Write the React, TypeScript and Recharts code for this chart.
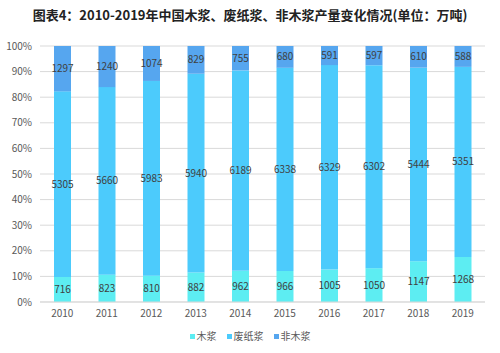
import { BarChart, Bar, XAxis, YAxis, CartesianGrid, LabelList } from "recharts";

const years = ["2010", "2011", "2012", "2013", "2014", "2015", "2016", "2017", "2018", "2019"];
const woodPulp = [716, 823, 810, 882, 962, 966, 1005, 1050, 1147, 1268];
const wastePulp = [5305, 5660, 5983, 5940, 6189, 6338, 6329, 6302, 5444, 5351];
const nonWoodPulp = [1297, 1240, 1074, 829, 755, 680, 591, 597, 610, 588];
const yTicks = [0, 0.1, 0.2, 0.3, 0.4, 0.5, 0.6, 0.7, 0.8, 0.9, 1];

const series = [
  { key: "wood", name: "木浆", color: "#5DEDF2" },
  { key: "waste", name: "废纸浆", color: "#4CCBFC" },
  { key: "nonwood", name: "非木浆", color: "#56A6EF" },
];

const data = years.map((year, i) => ({
  year,
  wood: woodPulp[i],
  waste: wastePulp[i],
  nonwood: nonWoodPulp[i],
}));

const font = '"Noto Sans CJK SC", "Noto Sans", sans-serif';

export default function App() {
  return (
    <div
      style={{
        position: "absolute",
        left: 0,
        top: 0,
        width: 500,
        height: 353,
        background: "#fff",
        fontFamily: font,
      }}
    >
      <div
        style={{
          position: "absolute",
          top: 6,
          left: 0,
          width: 500,
          textAlign: "center",
          fontSize: 13,
          fontWeight: "bold",
          color: "#222",
          lineHeight: "18px",
        }}
      >
        图表4：2010-2019年中国木浆、废纸浆、非木浆产量变化情况(单位：万吨)
      </div>
      <BarChart
        width={500}
        height={353}
        data={data}
        stackOffset="expand"
        margin={{ top: 46, right: 15, left: 0, bottom: 31 }}
      >
        <CartesianGrid vertical={false} stroke="#D9D9D9" />
        <XAxis
          dataKey="year"
          height={20}
          tickLine={false}
          axisLine={{ stroke: "#D9D9D9" }}
          tick={{ fontSize: 10, fill: "#595959", fontFamily: font }}
        />
        <YAxis
          width={40}
          ticks={yTicks}
          domain={[0, 1]}
          tickLine={false}
          axisLine={false}
          tickFormatter={(v) => `${Math.round(v * 100)}%`}
          tick={{ fontSize: 10, fill: "#595959", fontFamily: font }}
        />
        {series.map((s) => (
          <Bar
            key={s.key}
            dataKey={s.key}
            name={s.name}
            stackId="a"
            fill={s.color}
            barSize={17}
            isAnimationActive={false}
          >
            <LabelList
              dataKey={s.key}
              position="center"
              style={{ fontSize: 10, fill: "#404040", fontFamily: font }}
            />
          </Bar>
        ))}
      </BarChart>
      <div
        style={{
          position: "absolute",
          top: 328,
          left: 0,
          width: 500,
          display: "flex",
          justifyContent: "center",
          gap: 10,
          fontSize: 10,
          color: "#595959",
          lineHeight: "16px",
        }}
      >
        {series.map((s) => (
          <span key={s.key} style={{ display: "flex", alignItems: "center" }}>
            <span
              style={{
                display: "inline-block",
                width: 5,
                height: 5,
                background: s.color,
                marginRight: 2,
              }}
            />
            {s.name}
          </span>
        ))}
      </div>
    </div>
  );
}
